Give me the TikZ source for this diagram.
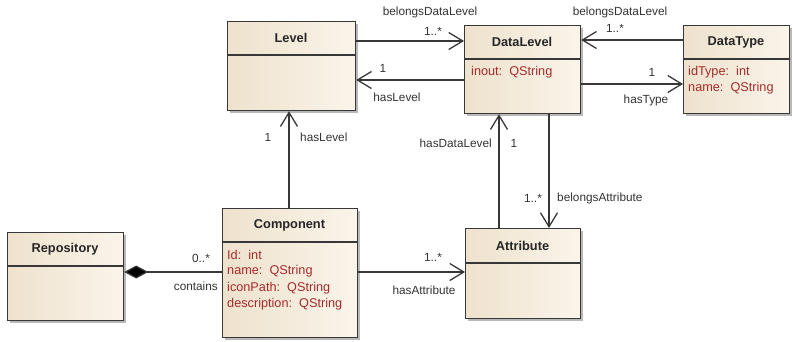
\documentclass[tikz,border=0pt]{standalone}
\usepackage{fontspec}
\setmainfont{Liberation Sans}
\usetikzlibrary{arrows.meta,shadows}

\definecolor{boxleft}{HTML}{EEE2CD}
\definecolor{boxright}{HTML}{FAF4EA}
\definecolor{edgegray}{HTML}{383838}
\definecolor{attrred}{HTML}{A62B2B}
\definecolor{labelgray}{HTML}{333333}

\tikzset{
  classbox/.style={draw=edgegray, line width=1.2pt, left color=boxleft, right color=boxright,
    inner sep=0pt, drop shadow={shadow xshift=2.5pt, shadow yshift=-2.5pt, fill=black, opacity=0.28}},
  classline/.style={draw=edgegray, line width=1.2pt},
  classtitle/.style={font=\fontsize{12.8}{14}\selectfont\bfseries, text=black!85, inner sep=0pt},
  attrtext/.style={font=\fontsize{12.7}{14}\selectfont, text=attrred, anchor=west, inner sep=0pt},
  linklabel/.style={font=\fontsize{11.8}{13}\selectfont, text=labelgray, inner sep=0pt},
  openhead/.tip={Straight Barb[length=14pt,width=17pt,line width=1.3pt]},
  assoc/.style={draw=edgegray, line width=1.2pt, -openhead},
  compose/.style={draw=edgegray, line width=1.2pt, -{Diamond[length=24pt,width=13pt,fill=black]}}
}

% class box: name, x1, y1, x2, y2, header bottom, title
\newcommand\umlclass[7]{%
  \pgfmathsetmacro\classw{#4-#2}%
  \pgfmathsetmacro\classh{#5-#3}%
  \node[classbox, minimum width=\classw pt, minimum height=\classh pt, anchor=north west] (#1) at (#2,#3) {};
  \draw[classline] (#2,#6) -- (#4,#6);
  \node[classtitle] (#1-title) at ({(#2+#4)/2},{(#3+#6)/2}) {#7};
}

\begin{document}
\begin{tikzpicture}[x=1pt,y=-1pt]
\useasboundingbox (0,0) rectangle (793,341);

% classes
\umlclass{Level}{227}{21}{355}{110}{55}{Level}
\umlclass{DataLevel}{464}{25}{580}{113}{59}{DataLevel}
\umlclass{DataType}{683}{25}{789}{113}{59}{DataType}
\umlclass{Repository}{7}{232}{123}{320}{266}{Repository}
\umlclass{Component}{222}{208}{357}{337}{242}{Component}
\umlclass{Attribute}{465}{228}{580}{318}{263}{Attribute}

% attributes
\node[attrtext] (dl-a1) at (471,72) {inout:\ \ QString};
\node[attrtext] (dt-a1) at (688,72) {idType:\ \ int};
\node[attrtext] (dt-a2) at (688,88) {name:\ \ QString};
\node[attrtext] (c-a1) at (227,255) {Id:\ \ int};
\node[attrtext] (c-a2) at (227,271) {name:\ \ QString};
\node[attrtext] (c-a3) at (227,288) {iconPath:\ \ QString};
\node[attrtext] (c-a4) at (227,304) {description:\ \ QString};

% associations
\draw[assoc] (Level.east |- 0,41) -- (DataLevel.west |- 0,41);
\draw[assoc] (DataLevel.west |- 0,80) -- (Level.east |- 0,80);
\draw[assoc] (DataType.west |- 0,40) -- (DataLevel.east |- 0,40);
\draw[assoc] (DataLevel.east |- 0,84) -- (DataType.west |- 0,84);
\draw[assoc] (Component.north -| 289,0) -- (Level.south -| 289,0);
\draw[assoc] (Attribute.north -| 499,0) -- (DataLevel.south -| 499,0);
\draw[assoc] (DataLevel.south -| 549,0) -- (Attribute.north -| 549,0);
\draw[assoc] (Component.east |- 0,272) -- (Attribute.west |- 0,272);
\draw[compose] (Component.west |- 0,272) -- (Repository.east |- 0,272);

% association labels
\node[linklabel] (l1a) at (430,12) {belongsDataLevel};
\node[linklabel] (l1b) at (433,31) {1..*};
\node[linklabel] (l2a) at (383,68) {1};
\node[linklabel] (l2b) at (397,97) {hasLevel};
\node[linklabel] (l3a) at (620,12) {belongsDataLevel};
\node[linklabel] (l3b) at (615,28) {1..*};
\node[linklabel] (l4a) at (652,72) {1};
\node[linklabel] (l4b) at (646,100) {hasType};
\node[linklabel] (l5a) at (268,137) {1};
\node[linklabel, anchor=west] (l5b) at (300,137) {hasLevel};
\node[linklabel, anchor=east] (l6a) at (492,143) {hasDataLevel};
\node[linklabel] (l6b) at (514,143) {1};
\node[linklabel] (l7a) at (533,198) {1..*};
\node[linklabel, anchor=west] (l7b) at (557,198) {belongsAttribute};
\node[linklabel] (l8a) at (433,257) {1..*};
\node[linklabel] (l8b) at (424,290) {hasAttribute};
\node[linklabel] (l9a) at (201,258) {0..*};
\node[linklabel, anchor=east] (l9b) at (218,286) {contains};
\end{tikzpicture}
\end{document}
